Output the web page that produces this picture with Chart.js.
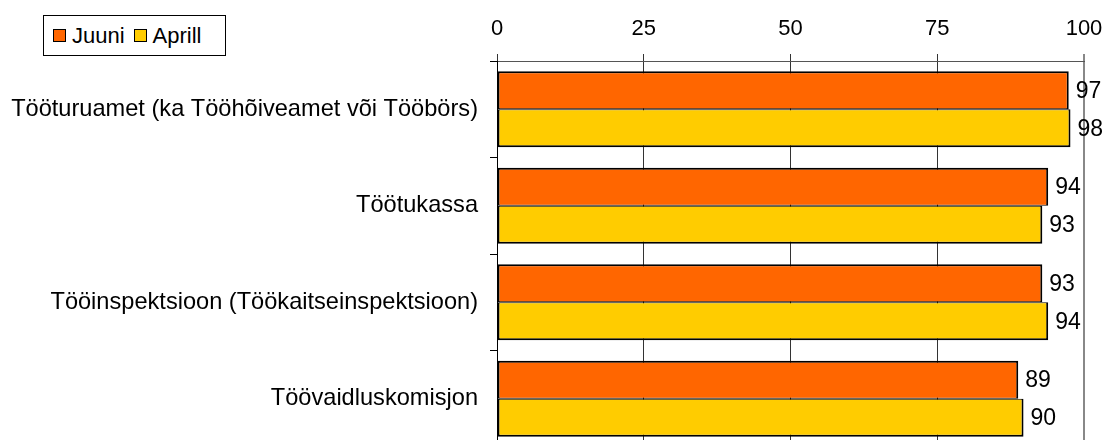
<!DOCTYPE html>
<html>
<head>
<meta charset="utf-8">
<script src="https://cdn.jsdelivr.net/npm/chart.js@4/dist/chart.umd.min.js"></script>
<style>
  body { margin: 0; overflow: hidden; background: #fff; font-family: "Liberation Sans", Arial, sans-serif; }
  #wrap { position: relative; width: 1110px; height: 447px; }
  #legend { position: absolute; left: 43px; top: 15px; width: 181px; height: 39px; border: 1px solid #000; background: #fff;
    display: flex; align-items: center; font-size: 22px; color: #000; }
  #legend span.sw { display: inline-block; width: 11px; height: 11px; border: 1px solid #000; margin: 0 6px 0 9px; }
</style>
</head>
<body>
<div id="wrap">
  <canvas id="chart"></canvas>
  <div id="legend"></div>
</div>
<script>
const categories = [
  "Tööturuamet (ka Tööhõiveamet või Tööbörs)",
  "Töötukassa",
  "Tööinspektsioon (Töökaitseinspektsioon)",
  "Töövaidluskomisjon"
];
const juuni = [97.4, 93.9, 92.9, 88.8];
const aprill = [97.7, 92.9, 93.9, 89.7];
const seriesNames = ["Juuni", "Aprill"];
const colors = ["#ff6600", "#ffcc00"];
const xMin = 0, xMax = 100, xStep = 25;

const font = "'Liberation Sans', Arial, sans-serif";

const valueLabels = {
  id: "valueLabels",
  afterDatasetsDraw(chart) {
    const ctx = chart.ctx;
    ctx.save();
    ctx.font = "23px " + font;
    ctx.fillStyle = "#000";
    ctx.textAlign = "left";
    ctx.textBaseline = "middle";
    chart.data.datasets.forEach((ds, i) => {
      chart.getDatasetMeta(i).data.forEach((bar, j) => {
        ctx.fillText(Math.round(ds.data[j]), bar.x + 7, bar.y + 1);
      });
    });
    ctx.restore();
  }
};

document.getElementById("legend").innerHTML = seriesNames
  .map((name, i) => `<span class="sw" style="background:${colors[i]}"></span>${name}`)
  .join("");

new Chart(document.getElementById("chart"), {
  type: "bar",
  data: {
    labels: categories,
    datasets: [
      { label: seriesNames[0], data: juuni, backgroundColor: colors[0], borderColor: "#000",
        borderSkipped: false, borderWidth: { top: 2, right: 2, bottom: 1, left: 2 } },
      { label: seriesNames[1], data: aprill, backgroundColor: colors[1], borderColor: "#000",
        borderSkipped: false, borderWidth: { top: 1, right: 2, bottom: 2, left: 2 } }
    ]
  },
  options: {
    indexAxis: "y",
    responsive: true,
    maintainAspectRatio: false,
    animation: false,
    categoryPercentage: 0.786,
    barPercentage: 1,
    layout: { padding: { left: 0, right: 26, top: 0, bottom: 0 } },
    plugins: { legend: { display: false }, tooltip: { enabled: false } },
    scales: {
      x: {
        position: "top",
        min: xMin,
        max: xMax,
        ticks: { stepSize: xStep, color: "#000", font: { family: font, size: 22 }, padding: 12 },
        grid: {
          color: (c) => (c.tick && c.tick.value === xMax ? "#888" : "#333"),
          lineWidth: (c) => (c.tick && c.tick.value === xMax ? 2 : 1),
          tickLength: 7
        },
        border: { color: "#555", width: 1 },
        afterFit: (scale) => {
          scale.height = 61;
          scale.paddingLeft = 0;
          scale.paddingRight = 0;
        }
      },
      y: {
        ticks: { color: "#000", font: { family: font, size: 23.6 }, padding: 12 },
        grid: { drawOnChartArea: false, tickLength: 7, color: "#000" },
        border: { color: "#000", width: 1 },
        afterFit: (scale) => {
          scale.width = 497;
          scale.paddingTop = 0;
          scale.paddingBottom = 0;
        }
      }
    }
  },
  plugins: [valueLabels]
});
</script>
</body>
</html>
